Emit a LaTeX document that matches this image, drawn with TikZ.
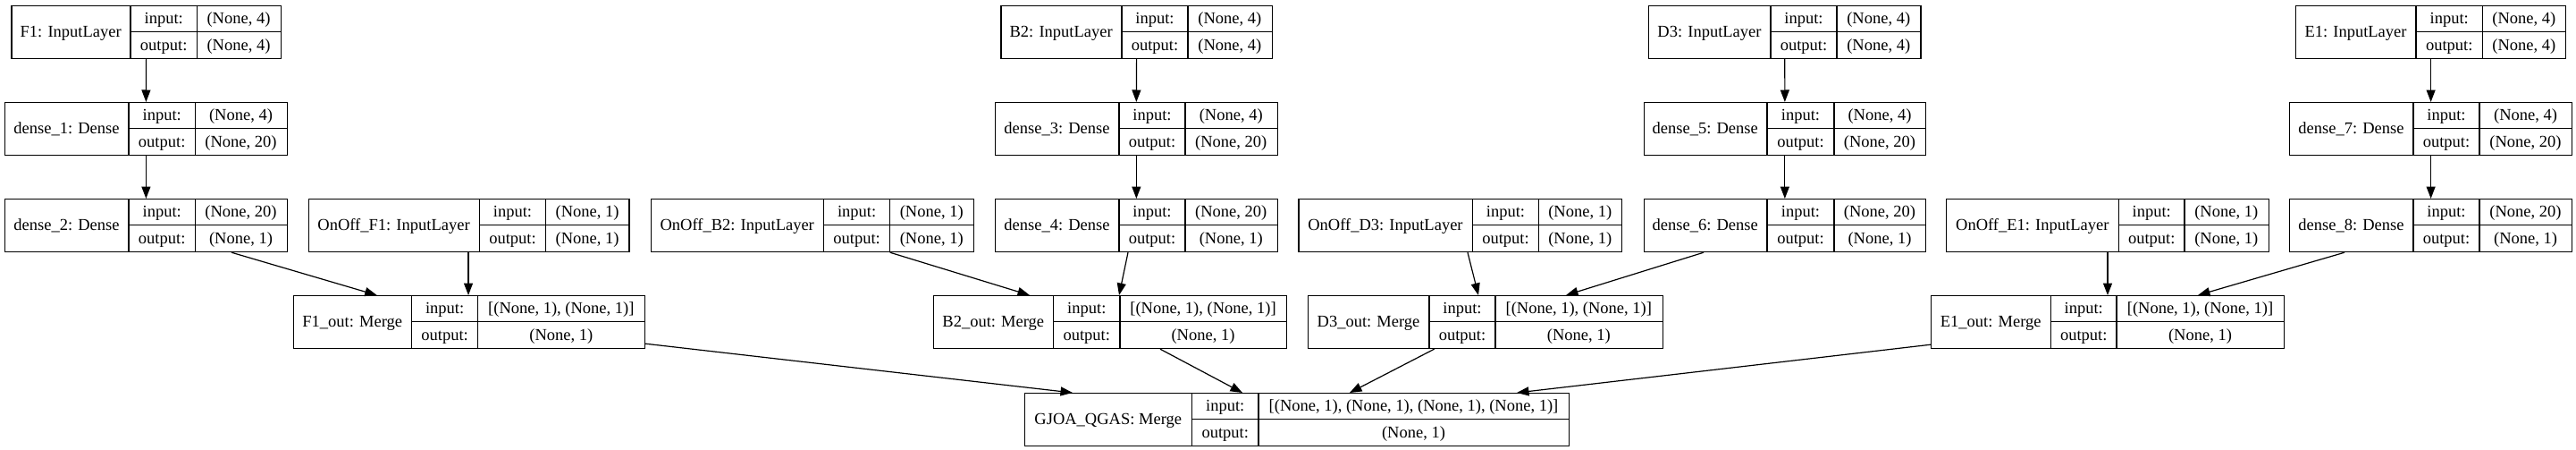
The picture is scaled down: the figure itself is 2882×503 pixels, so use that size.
\documentclass[tikz,border=0pt]{standalone}
\usepackage{fontspec}
\setmainfont{Liberation Serif}
\usetikzlibrary{arrows.meta}
\tikzset{
  box/.style={draw, line width=1.2pt, inner sep=0pt, minimum height=59pt, anchor=north west},
  sepline/.style={line width=1.2pt},
  txt/.style={inner sep=0pt, anchor=base, font=\fontsize{18.5}{22}\selectfont},
  conn/.style={line width=1.2pt, -{Triangle[length=13.5pt,width=10pt]}},
}
% #1 name, #2 x1, #3 div1, #4 div2, #5 x2, #6 ytop, #7 label, #8 input, #9 output
\newcommand\klayer[9]{%
  \pgfmathsetmacro\klw{#5-#2}%
  \node[box, minimum width=\klw pt] (#1) at (#2,#6) {};
  \draw[sepline] (#3,#6) -- (#3,{#6+59});
  \draw[sepline] (#4,#6) -- (#4,{#6+59});
  \draw[sepline] (#3,{#6+29.5}) -- (#5,{#6+29.5});
  \node[txt] (#1-l) at ({(#2+#3)/2},{#6+35.5}) {#7};
  \node[txt] (#1-a) at ({(#3+#4)/2},{#6+20.75}) {input:};
  \node[txt] (#1-b) at ({(#3+#4)/2},{#6+50.25}) {output:};
  \node[txt] (#1-c) at ({(#4+#5)/2},{#6+20.75}) {#8};
  \node[txt] (#1-d) at ({(#4+#5)/2},{#6+50.25}) {#9};
}
\begin{document}
\begin{tikzpicture}[x=1pt,y=-1pt]
\useasboundingbox (0,0) rectangle (2882,503);
% column F1
\klayer{f1}{12.4}{146}{220.4}{313.6}{6}{F1: InputLayer}{(None, 4)}{(None, 4)}
\klayer{d1}{5}{144}{218.4}{320.6}{114}{dense\_1: Dense}{(None, 4)}{(None, 20)}
\klayer{d2}{5}{144}{218.4}{320.6}{222}{dense\_2: Dense}{(None, 20)}{(None, 1)}
\klayer{onf1}{344.8}{536.3}{610.7}{703.4}{222}{OnOff\_F1: InputLayer}{(None, 1)}{(None, 1)}
\klayer{f1o}{328}{460.5}{534.7}{721}{330}{F1\_out: Merge}{[(None, 1), (None, 1)]}{(None, 1)}
% column B2
\klayer{b2}{1119.3}{1255}{1329}{1422.7}{6}{B2: InputLayer}{(None, 4)}{(None, 4)}
\klayer{d3}{1113}{1252}{1326}{1428.5}{114}{dense\_3: Dense}{(None, 4)}{(None, 20)}
\klayer{d4}{1113}{1252}{1326}{1428.5}{222}{dense\_4: Dense}{(None, 20)}{(None, 1)}
\klayer{onb2}{728}{921.5}{995.7}{1088.8}{222}{OnOff\_B2: InputLayer}{(None, 1)}{(None, 1)}
\klayer{b2o}{1044}{1178.6}{1253}{1439}{330}{B2\_out: Merge}{[(None, 1), (None, 1)]}{(None, 1)}
% column D3
\klayer{d3in}{1844}{1981}{2055}{2148.4}{6}{D3: InputLayer}{(None, 4)}{(None, 4)}
\klayer{d5}{1838.5}{1977}{2052}{2154}{114}{dense\_5: Dense}{(None, 4)}{(None, 20)}
\klayer{d6}{1838.5}{1977}{2052}{2154}{222}{dense\_6: Dense}{(None, 20)}{(None, 1)}
\klayer{ond3}{1452.4}{1647.5}{1721.4}{1814}{222}{OnOff\_D3: InputLayer}{(None, 1)}{(None, 1)}
\klayer{d3o}{1463}{1599}{1673}{1859.6}{330}{D3\_out: Merge}{[(None, 1), (None, 1)]}{(None, 1)}
% column E1
\klayer{e1}{2568}{2703}{2777.5}{2870}{6}{E1: InputLayer}{(None, 4)}{(None, 4)}
\klayer{d7}{2561}{2700}{2774}{2877}{114}{dense\_7: Dense}{(None, 4)}{(None, 20)}
\klayer{d8}{2561}{2700}{2774}{2877}{222}{dense\_8: Dense}{(None, 20)}{(None, 1)}
\klayer{one1}{2177}{2370.5}{2444}{2537.5}{222}{OnOff\_E1: InputLayer}{(None, 1)}{(None, 1)}
\klayer{e1o}{2160}{2294.5}{2368}{2555}{330}{E1\_out: Merge}{[(None, 1), (None, 1)]}{(None, 1)}
% final merge
\klayer{gj}{1146}{1333.5}{1408}{1755}{439}{GJOA\_QGAS: Merge}{[(None, 1), (None, 1), (None, 1), (None, 1)]}{(None, 1)}
% connectors
\draw[conn] (f1.south) -- (d1.north);
\draw[conn] (d1.south) -- (d2.north);
\draw[conn] ([xshift=254pt]d2.south west) -- ([xshift=93.7pt]f1o.north west);
\draw[conn] ([xshift=179.2pt]onf1.south west) -- ([xshift=196pt]f1o.north west);
\draw[conn] (b2.south) -- (d3.north);
\draw[conn] (d3.south) -- (d4.north);
\draw[conn] ([xshift=267.7pt]onb2.south west) -- ([xshift=108pt]b2o.north west);
\draw[conn] ([xshift=149pt]d4.south west) -- ([xshift=208pt]b2o.north west);
\draw[conn] (d3in.south) -- (d5.north);
\draw[conn] (d5.south) -- (d6.north);
\draw[conn] ([xshift=189.6pt]ond3.south west) -- ([xshift=191pt]d3o.north west);
\draw[conn] ([xshift=67.5pt]d6.south west) -- ([xshift=289pt]d3o.north west);
\draw[conn] (e1.south) -- (d7.north);
\draw[conn] (d7.south) -- (d8.north);
\draw[conn] ([xshift=181pt]one1.south west) -- ([xshift=198pt]e1o.north west);
\draw[conn] ([xshift=62pt]d8.south west) -- ([xshift=299pt]e1o.north west);
\draw[conn] ([yshift=6pt]f1o.south east) -- ([xshift=54pt]gj.north west);
\draw[conn] ([xshift=254pt]b2o.south west) -- ([xshift=244pt]gj.north west);
\draw[conn] ([xshift=141.6pt]d3o.south west) -- ([xshift=364pt]gj.north west);
\draw[conn] ([yshift=5pt]e1o.south west) -- ([xshift=551pt]gj.north west);
\end{tikzpicture}
\end{document}
